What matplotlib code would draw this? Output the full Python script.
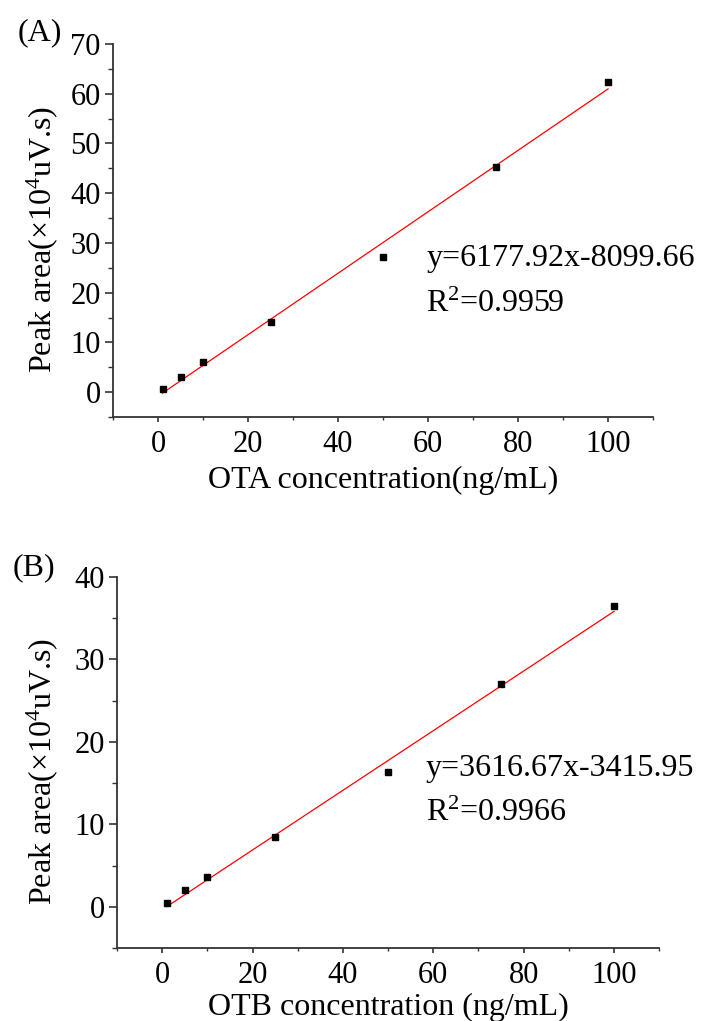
#!/usr/bin/env python3
# -*- coding: utf-8 -*-

import numpy as np
import matplotlib
matplotlib.use("Agg")
import matplotlib.pyplot as plt
from matplotlib.ticker import MultipleLocator

plt.rcParams["font.family"] = ["Liberation Serif", "DejaVu Serif"]
plt.rcParams["mathtext.fontset"] = "custom"
plt.rcParams["mathtext.rm"] = "Liberation Serif"
plt.rcParams["mathtext.it"] = "Liberation Serif:italic"

# concentrations (ng/mL)
conc = [1, 5, 10, 25, 50, 75, 100]

# peak areas (x10^4 uV.s)
ota_area = [0.7, 3.0, 6.0, 14.0, 27.2, 45.3, 62.3]
otb_area = [0.5, 2.0, 3.6, 8.5, 16.3, 27.0, 36.5]

# fitted lines, as printed (uV.s)
ota_fit = (6177.92, -8099.66)
otb_fit = (3616.67, -3415.95)
ota_r2 = "0.9959"
otb_r2 = "0.9966"

FS = 22


def draw_panel(ax, area, fit, r2, ymax, xlabel, text_pos, label_pad, ylab_x):
    x = np.array(conc, dtype=float)
    slope, icpt = fit
    ax.plot(x, (slope * x + icpt) / 1e4, color="red", lw=0.9, zorder=2)
    ax.plot(conc, area, "s", color="black", ms=5, zorder=3)

    ax.set_xlim(-10, 110)
    ax.set_ylim(-5, ymax)
    ax.xaxis.set_major_locator(MultipleLocator(20))
    ax.xaxis.set_minor_locator(MultipleLocator(10))
    ax.yaxis.set_major_locator(MultipleLocator(10))
    ax.yaxis.set_minor_locator(MultipleLocator(5))

    for side in ["top", "right"]:
        ax.spines[side].set_visible(False)
    for side in ["left", "bottom"]:
        ax.spines[side].set_color("#333333")
        ax.spines[side].set_linewidth(1.3)

    ax.tick_params(axis="x", which="major", direction="out", length=3.6,
                   width=1.2, color="#333333", labelsize=FS, pad=6)
    ax.tick_params(axis="x", which="minor", direction="out", length=2.2,
                   width=1.0, color="#333333")
    ax.tick_params(axis="y", which="major", direction="out", length=5.8,
                   width=1.2, color="#333333", labelsize=FS, pad=3)
    ax.tick_params(axis="y", which="minor", direction="out", length=3.6,
                   width=1.0, color="#333333")

    ax.set_xlabel(xlabel, fontsize=FS + 1, labelpad=label_pad)
    ax.set_ylabel(r"Peak area(×10$^{\mathrm{4}}$uV.s)", fontsize=FS + 1)
    ax.yaxis.set_label_coords(ylab_x, 0.475)

    tx, ty1, ty2 = text_pos
    eq = "y={:.2f}x-{:.2f}".format(slope, -icpt)
    ax.text(tx, ty1, eq, fontsize=FS + 1, va="baseline", ha="left")
    ax.text(tx, ty2, r"R$^{\mathrm{2}}$=" + r2, fontsize=FS + 1,
            va="baseline", ha="left")


def main():
    fig = plt.figure(figsize=(7.05, 10.21), dpi=100)

    ax_a = fig.add_axes([0.1603, 0.5916, 0.766, 0.3653])
    draw_panel(ax_a, ota_area, ota_fit, ota_r2, 70,
               "OTA concentration(ng/mL)", (59.6, 25.4, 16.2), 5, -0.098)

    ax_b = fig.add_axes([0.166, 0.0715, 0.769, 0.3634])
    draw_panel(ax_b, otb_area, otb_fit, otb_r2, 40,
               "OTB concentration (ng/mL)", (58.4, 15.9, 10.4), 2, -0.105)

    fig.text(18 / 705, 1 - 40 / 1021, "(A)", fontsize=FS + 1,
             ha="left", va="baseline")
    fig.text(13 / 705, 1 - 575 / 1021, "(B)", fontsize=FS + 1,
             ha="left", va="baseline")

    fig.savefig("out.png", dpi=100)


if __name__ == "__main__":
    main()
